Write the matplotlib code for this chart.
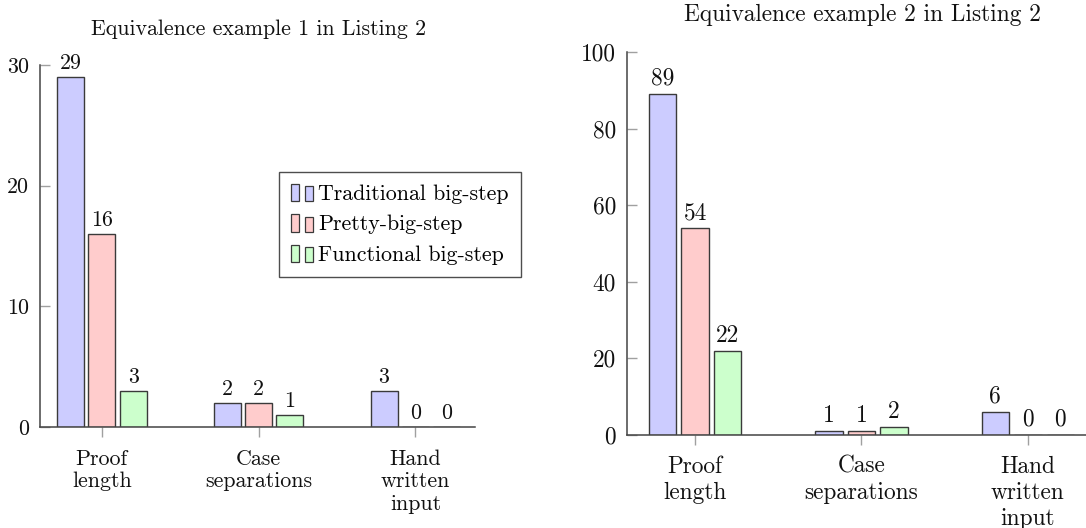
import matplotlib
matplotlib.use("Agg")
import matplotlib.pyplot as plt
from matplotlib.patches import Rectangle
from matplotlib.legend_handler import HandlerBase
import numpy as np

plt.rcParams['font.family'] = ['cmr10', 'DejaVu Serif']
plt.rcParams['mathtext.fontset'] = 'cm'
plt.rcParams['axes.formatter.use_mathtext'] = True

categories = ["Proof\nlength", "Case\nseparations", "Hand\nwritten\ninput"]
series_names = ["Traditional big-step", "Pretty-big-step", "Functional big-step"]
ex1_values = [[29, 2, 3], [16, 2, 0], [3, 1, 0]]
ex2_values = [[89, 1, 6], [54, 1, 0], [22, 2, 0]]
titles = ["Equivalence example 1 in Listing 2", "Equivalence example 2 in Listing 2"]
ex1_yticks = [0, 10, 20, 30]
ex2_yticks = [0, 20, 40, 60, 80, 100]

fills = ["#ccccff", "#ffcccc", "#ccffcc"]
edge = "#3a3a3a"
spine_c = "#444444"
tick_c = "#a0a0a0"
FS1 = 15.8
FS2 = 16.8

fig = plt.figure(figsize=(10.86, 5.28), dpi=100)
W, H = 1086, 528

def pos(x0, x1, y0, y1):
    return [x0 / W, (H - y0) / H, (x1 - x0) / W, (y0 - y1) / H]

ax1 = fig.add_axes(pos(40, 475, 427, 65))
ax2 = fig.add_axes(pos(627, 1086, 435, 52))


class TwoBarHandler(HandlerBase):
    def create_artists(self, legend, orig_handle, xdescent, ydescent, width, height, fontsize, trans):
        fc = orig_handle.get_facecolor()
        w = width * 0.32
        h = height * 1.15
        y = -ydescent - height * 0.1
        r1 = Rectangle((-xdescent, y), w, h, facecolor=fc, edgecolor=edge, lw=0.9, transform=trans)
        r2 = Rectangle((-xdescent + width * 0.6, y), w, h * 0.85, facecolor=fc, edgecolor=edge, lw=0.9, transform=trans)
        return [r1, r2]


def draw(ax, values, yticks, ylim, xlim, offset, bw, title, title_y, FS, lsp, xpad):
    x = np.arange(len(categories))
    handles = []
    for i, (vals, name) in enumerate(zip(values, series_names)):
        bars = ax.bar(x + (i - 1) * offset, vals, bw, color=fills[i], edgecolor=edge,
                      linewidth=1.0, label=name, zorder=3)
        handles.append(bars.patches[0])
        for rect, v in zip(bars.patches, vals):
            ax.annotate(str(v), (rect.get_x() + rect.get_width() / 2, rect.get_height()),
                        xytext=(0, 3), textcoords="offset points", ha="center", va="bottom",
                        fontsize=FS, color="#111111")
    ax.set_xlim(*xlim)
    ax.set_ylim(*ylim)
    ax.set_xticks(x)
    ax.set_xticklabels(categories, fontsize=FS, linespacing=lsp)
    ax.set_yticks(yticks)
    ax.set_yticklabels([str(t) for t in yticks], fontsize=FS)
    ax.tick_params(axis="x", direction="out", length=7, color=tick_c, width=1, pad=xpad, labelcolor="#111111")
    ax.tick_params(axis="y", direction="in", length=7, color=tick_c, width=1, pad=8, labelcolor="#111111")
    for s in ["top", "right"]:
        ax.spines[s].set_visible(False)
    for s in ["left", "bottom"]:
        ax.spines[s].set_color(spine_c)
        ax.spines[s].set_linewidth(1.1)
    ax.spines["bottom"].set_zorder(4)
    fig.text(title_y[0] / W, 1 - title_y[1] / H, title, ha="center", va="center", fontsize=FS, color="#111111")
    return handles


h = draw(ax1, ex1_values, ex1_yticks, (0, 30), (-0.394, 2.38), 0.2, 0.172, titles[0], (259, 29), FS1, 1.2, 9)
draw(ax2, ex2_values, ex2_yticks, (0, 100), (-0.41, 2.35), 0.195, 0.165, titles[1], (862, 15), FS2, 1.22, 8)

leg = ax1.legend(h, series_names, loc="upper left", bbox_to_anchor=(0.549, 0.704),
                 borderaxespad=0, fontsize=FS1, frameon=True, fancybox=False,
                 handler_map={Rectangle: TwoBarHandler()}, handlelength=1.1,
                 handletextpad=0.15, labelspacing=0.5, borderpad=0.55)
leg.get_frame().set_edgecolor("#222222")
leg.get_frame().set_linewidth(1.0)

fig.savefig("out.png", dpi=100)
